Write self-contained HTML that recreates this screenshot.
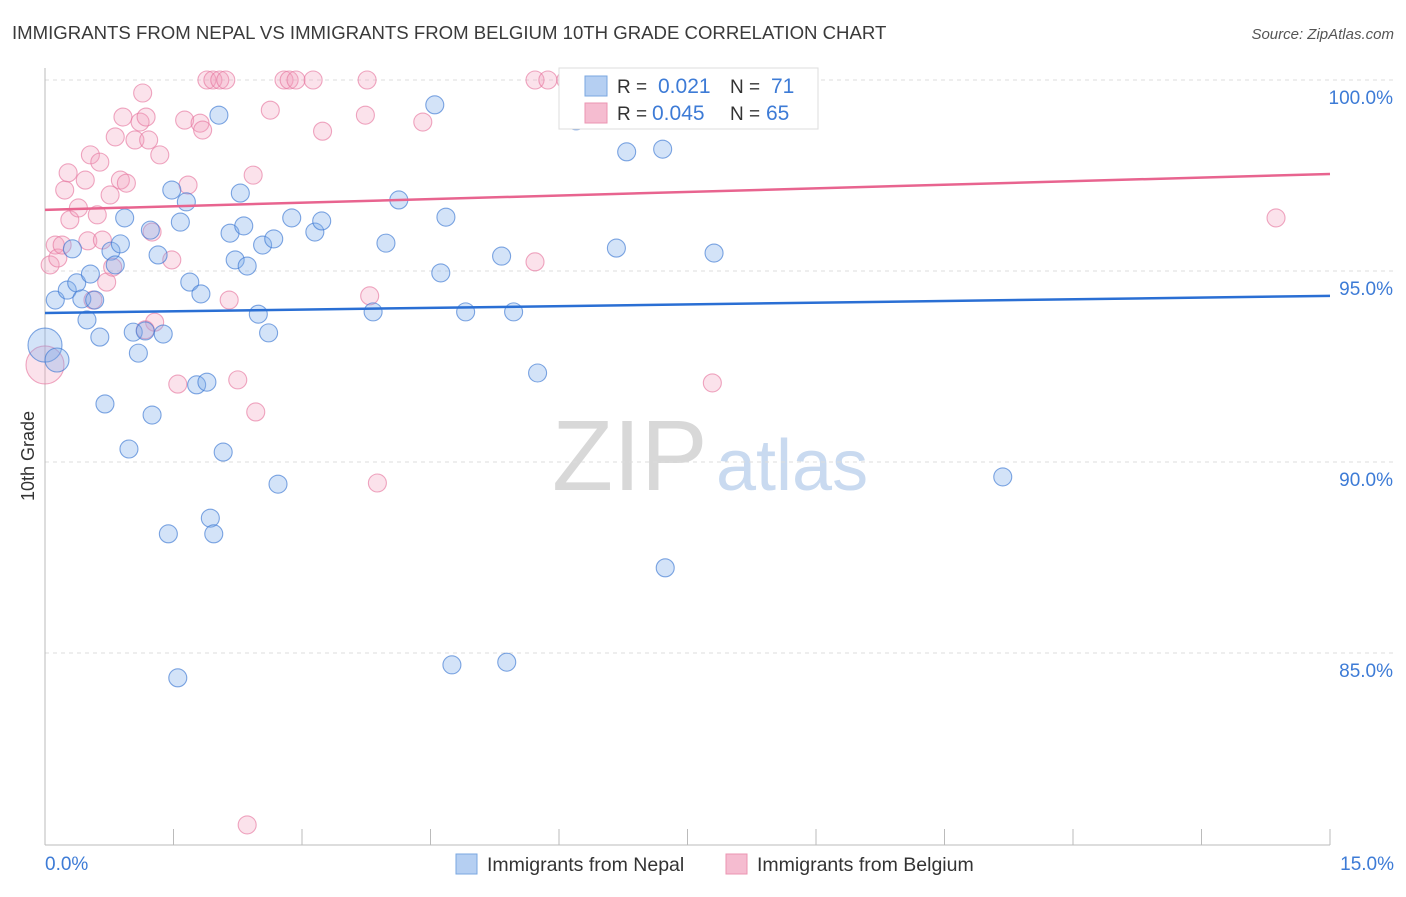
<!DOCTYPE html>
<html><head><meta charset="utf-8">
<style>
body{margin:0;background:#fff;font-family:"Liberation Sans",sans-serif;}
svg text{font-family:"Liberation Sans",sans-serif;}
</style></head>
<body>
<svg id="chart" width="1406" height="892" viewBox="0 0 1406 892" xmlns="http://www.w3.org/2000/svg">
<text x="12" y="39" font-size="18.6" fill="#3a3a3a">IMMIGRANTS FROM NEPAL VS IMMIGRANTS FROM BELGIUM 10TH GRADE CORRELATION CHART</text>
<text x="1394" y="39" font-size="15" fill="#555" text-anchor="end" font-style="italic">Source: ZipAtlas.com</text>
<g>
<text x="552" y="490" font-size="100" fill="#d8d8d8" font-family="Liberation Serif,serif">ZIP</text>
<text x="716" y="490" font-size="72" fill="#c9daf0">atlas</text>
</g>
<g id="grid"></g>
<g id="axes"></g>
<g id="points"></g>
<g id="trends"></g>
<text transform="translate(34,456) rotate(-90)" font-size="18" fill="#333" text-anchor="middle">10th Grade</text>
<text x="45" y="870" font-size="19" fill="#3d7bd6">0.0%</text>
<text x="1394" y="870" font-size="19" fill="#3d7bd6" text-anchor="end">15.0%</text>
<g>
<rect x="559" y="68" width="259" height="61" fill="#fff" stroke="#ddd"/>
<rect x="585" y="76" width="22" height="20" fill="#b5cff2" stroke="#7aa7e0"/>
<rect x="585" y="103" width="22" height="20" fill="#f5bcd0" stroke="#eb94b2"/>
<text x="617" y="93" font-size="19" fill="#333">R = </text>
<text x="658" y="93" font-size="21" fill="#3d7bd6">0.021</text>
<text x="730" y="93" font-size="19" fill="#333">N = </text>
<text x="771" y="93" font-size="21" fill="#3d7bd6">71</text>
<text x="617" y="120" font-size="19" fill="#333">R = </text>
<text x="652" y="120" font-size="21" fill="#3d7bd6">0.045</text>
<text x="730" y="120" font-size="19" fill="#333">N = </text>
<text x="766" y="120" font-size="21" fill="#3d7bd6">65</text>
</g>
<g>
<rect x="456" y="854" width="21" height="20" fill="#b5cff2" stroke="#7aa7e0"/>
<text x="487" y="871" font-size="19.5" fill="#333">Immigrants from Nepal</text>
</g>
<g>
<rect x="726" y="854" width="21" height="20" fill="#f5bcd0" stroke="#eb94b2"/>
<text x="757" y="871" font-size="19.5" fill="#333">Immigrants from Belgium</text>
</g>
</svg>
<script>
const yTicks=[100,95,90,85];
const yTickLabels=["100.0%","95.0%","90.0%","85.0%"];
const nepalX=[0,0.14,0.12,0.26,0.37,0.43,0.58,0.49,0.53,0.32,0.64,0.77,0.82,0.88,0.93,0.70,0.98,1.03,1.09,1.17,1.23,1.32,1.38,1.25,1.48,1.58,1.65,1.69,1.82,1.77,1.89,2.03,2.16,2.22,2.28,2.32,2.36,2.49,2.54,2.61,2.67,2.88,3.15,3.23,2.08,2.72,1.44,1.93,1.97,1.55,3.83,3.98,4.13,4.55,4.62,4.68,4.91,5.33,5.47,5.75,6.20,6.30,6.67,6.79,7.21,7.81,7.24,4.75,5.39,11.18];
const nepalY=[93.06,92.67,94.24,94.50,94.69,94.27,94.24,93.72,94.92,95.58,93.27,95.52,95.16,95.71,96.39,91.52,90.34,93.40,92.85,93.43,96.07,95.42,93.35,91.23,97.12,96.28,96.81,94.71,94.40,92.02,92.09,99.08,95.99,95.29,97.04,96.18,95.13,93.87,95.68,93.38,95.84,96.39,96.02,96.31,90.26,89.42,88.12,88.53,88.12,84.35,93.93,95.73,96.86,99.35,94.95,96.41,93.93,95.39,93.93,92.33,98.93,99.21,95.60,98.12,98.19,95.47,87.23,84.69,84.76,89.61];
const belgiumX=[0,0.06,0.12,0.15,0.20,0.23,0.27,0.29,0.39,0.47,0.50,0.53,0.61,0.64,0.67,0.72,0.76,0.79,0.82,0.88,0.91,0.95,1.05,1.11,1.14,1.18,1.21,1.25,1.34,1.28,1.48,1.55,1.63,1.67,1.81,1.84,1.89,1.96,2.04,2.11,2.15,2.25,2.43,2.46,2.63,2.79,2.85,2.93,3.13,3.24,3.74,3.76,3.79,3.88,4.41,5.72,5.72,5.87,6.08,7.79,14.37,2.36,0.56,1.17];
const belgiumY=[92.54,95.16,95.68,95.34,95.68,97.12,97.57,96.34,96.65,97.38,95.79,98.04,96.47,97.85,95.81,94.71,96.99,95.10,98.51,97.38,99.03,97.30,98.43,98.90,99.66,99.03,98.43,96.02,98.04,93.66,95.29,92.04,98.95,97.25,98.87,98.69,100,100,100,100,94.24,92.15,97.51,91.31,99.21,100,100,100,100,98.66,99.08,100,94.35,89.45,98.90,100,95.24,100,100,92.07,96.39,80.50,94.24,93.46];
const nepalTrend=[93.90,94.35];
const belgiumTrend=[96.60,97.54];
const X0=45,X1=1330,XMIN=0,XMAX=15;
function sx(v){return X0+(v-XMIN)/(XMAX-XMIN)*(X1-X0);}
function sy(v){return 80+(100-v)*38.2;}
const NS="http://www.w3.org/2000/svg";
function mk(tag,attrs,parent){const e=document.createElementNS(NS,tag);for(const k in attrs)e.setAttribute(k,attrs[k]);parent.appendChild(e);return e;}
const grid=document.getElementById('grid'),axes=document.getElementById('axes'),pts=document.getElementById('points'),tr=document.getElementById('trends');
yTicks.forEach((t,i)=>{
 const l=mk('line',{x1:45,x2:1394,y1:sy(t),y2:sy(t),stroke:'#ddd','stroke-dasharray':'4,4'},grid);
 
 
 const tx=mk('text',{x:1393,y:sy(t)+24,'font-size':19,fill:'#3d7bd6','text-anchor':'end'},grid);
 tx.textContent=yTickLabels[i];
 
 
});
const la=mk('line',{x1:45,x2:45,y1:68,y2:845,stroke:'#bbb'},axes);


const ba=mk('line',{x1:45,x2:1330,y1:845,y2:845,stroke:'#bbb'},axes);


for(let i=0;i<=10;i++){
 const v=XMIN+i*1.5;
 const t=mk('line',{x1:sx(v),x2:sx(v),y1:829,y2:845,stroke:'#bbb'},axes);
 
 
}
function drawSeries(xs,ys,fill,stroke,name){
 xs.forEach((x,i)=>{
  const r=(i===0)?(name==='nepal-point'?17:19):(name==='nepal-point'&&i===1?12:9);
  const c=mk('circle',{cx:sx(x),cy:sy(ys[i]),r:r,fill:fill,stroke:stroke,'stroke-width':1.1},pts);
  
  
 });
}
drawSeries(belgiumX,belgiumY,'rgba(242,160,190,0.3)','rgba(230,120,160,0.65)','belgium-point');
drawSeries(nepalX,nepalY,'rgba(130,175,235,0.35)','rgba(60,120,210,0.65)','nepal-point');
const t1=mk('line',{x1:sx(XMIN),y1:sy(nepalTrend[0]),x2:sx(XMAX),y2:sy(nepalTrend[1]),stroke:'#2a6fd4','stroke-width':2.5},tr);


const t2=mk('line',{x1:sx(XMIN),y1:sy(belgiumTrend[0]),x2:sx(XMAX),y2:sy(belgiumTrend[1]),stroke:'#e8648f','stroke-width':2.5},tr);


</script>
</body></html>
